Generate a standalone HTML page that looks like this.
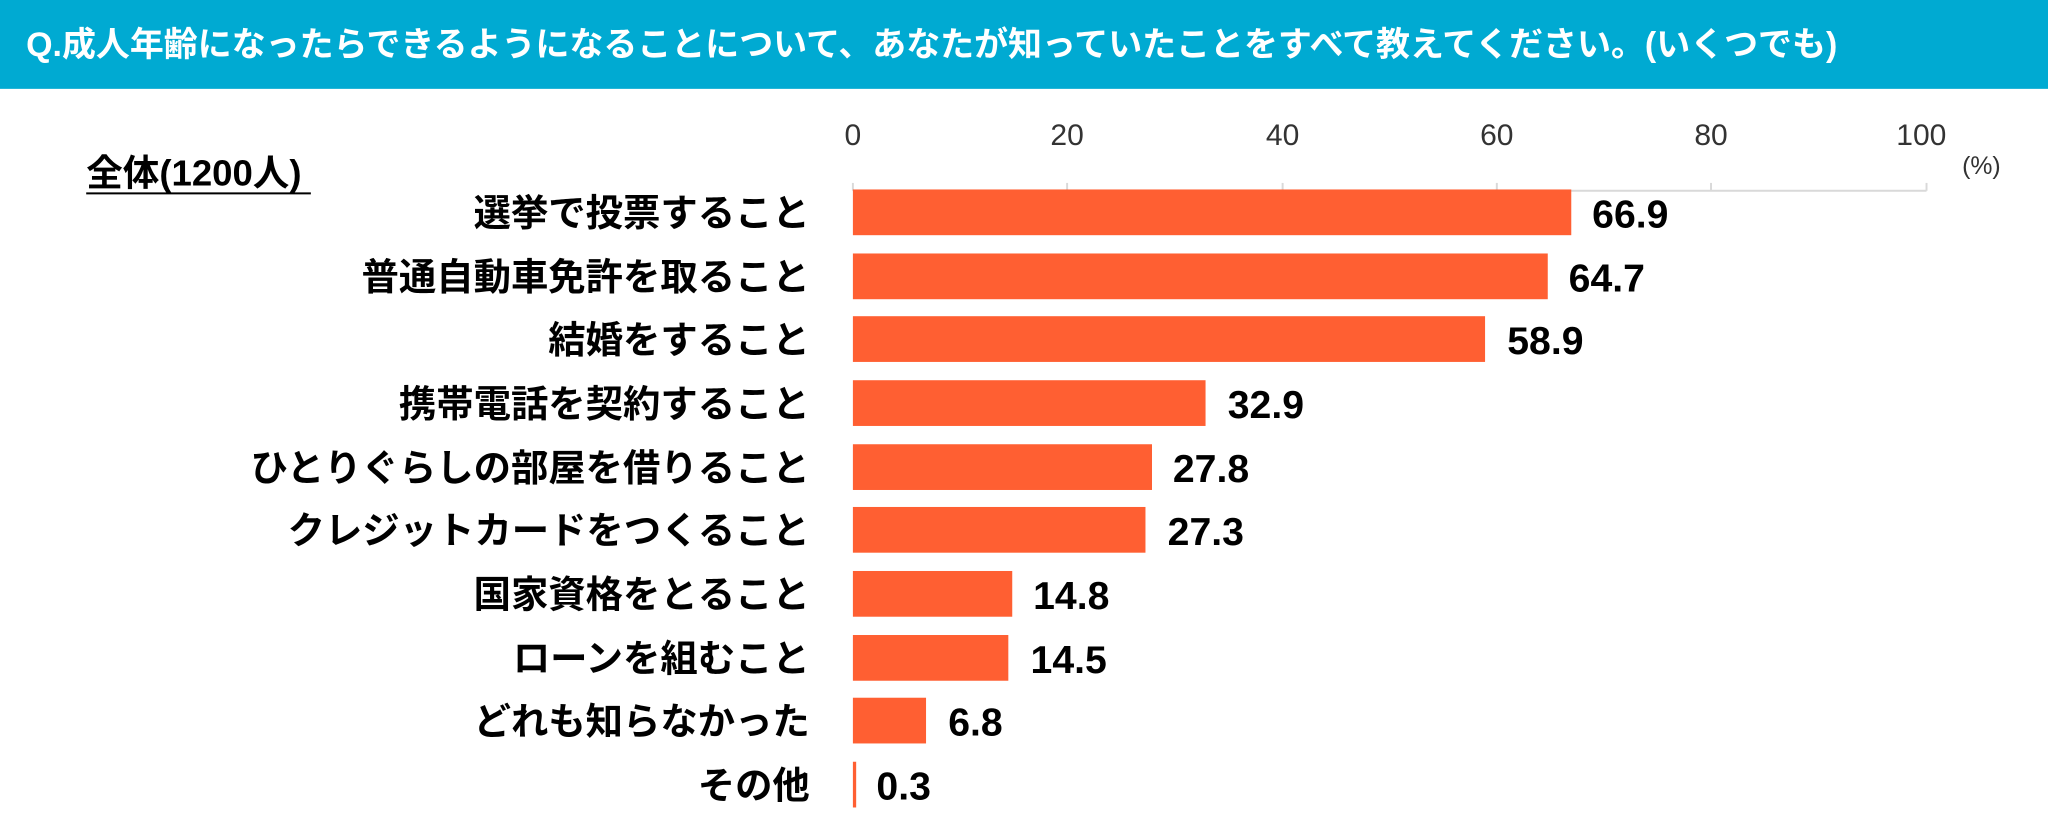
<!DOCTYPE html>
<html><head><meta charset="utf-8"><style>
html,body{margin:0;padding:0;background:#fff;}
svg{display:block;}
text{font-family:"Liberation Sans","Noto Sans CJK JP",sans-serif;}
</style></head><body>
<svg width="2048" height="831" viewBox="0 0 1568 636" preserveAspectRatio="none" xmlns="http://www.w3.org/2000/svg">
<rect x="0" y="0" width="1568" height="68" fill="#00AAD2"/>
<text x="20" y="43" font-size="26" font-weight="bold" fill="#fff">Q.成人年齢になったらできるようになることについて、あなたが知っていたことをすべて教えてください。(いくつでも)</text>
<g font-size="23" fill="#333" text-anchor="middle">
<text x="653" y="111">0</text><text x="817" y="111">20</text><text x="982" y="111">40</text><text x="1146" y="111">60</text><text x="1310" y="111">80</text><text x="1471" y="111">100</text>
</g>
<text x="1517" y="133" font-size="19" fill="#333" text-anchor="middle">(%)</text>
<text x="66" y="142" font-size="28" font-weight="bold" fill="#000">全体(1200人)</text>
<line x1="66" y1="148" x2="238" y2="148" stroke="#000" stroke-width="1.5"/>
<g stroke="#d9d9d9" stroke-width="1.5">
<line x1="653" y1="146" x2="1475" y2="146"/>
<line x1="653" y1="140" x2="653" y2="146"/><line x1="817" y1="140" x2="817" y2="146"/><line x1="982" y1="140" x2="982" y2="146"/><line x1="1146" y1="140" x2="1146" y2="146"/><line x1="1310" y1="140" x2="1310" y2="146"/><line x1="1475" y1="140" x2="1475" y2="146"/>
</g>
<g fill="#FF5F32">
<rect x="653" y="145" width="550" height="35"/>
<rect x="653" y="194" width="532" height="35"/>
<rect x="653" y="242" width="484" height="35"/>
<rect x="653" y="291" width="270" height="35"/>
<rect x="653" y="340" width="229" height="35"/>
<rect x="653" y="388" width="224" height="35"/>
<rect x="653" y="437" width="122" height="35"/>
<rect x="653" y="486" width="119" height="35"/>
<rect x="653" y="534" width="56" height="35"/>
<rect x="653" y="583" width="2.5" height="35"/>
</g>
<g font-size="28.6" font-weight="bold" fill="#000" text-anchor="end">
<text x="620" y="173">選挙で投票すること</text>
<text x="620" y="222">普通自動車免許を取ること</text>
<text x="620" y="270">結婚をすること</text>
<text x="620" y="319">携帯電話を契約すること</text>
<text x="620" y="368">ひとりぐらしの部屋を借りること</text>
<text x="620" y="416">クレジットカードをつくること</text>
<text x="620" y="465">国家資格をとること</text>
<text x="620" y="514">ローンを組むこと</text>
<text x="620" y="562">どれも知らなかった</text>
<text x="620" y="611">その他</text>
</g>
<g font-size="30" font-weight="bold" fill="#000">
<text x="1219" y="174">66.9</text>
<text x="1201" y="223">64.7</text>
<text x="1154" y="271">58.9</text>
<text x="940" y="320">32.9</text>
<text x="898" y="369">27.8</text>
<text x="894" y="417">27.3</text>
<text x="791" y="466">14.8</text>
<text x="789" y="515">14.5</text>
<text x="726" y="563">6.8</text>
<text x="671" y="612">0.3</text>
</g>
</svg>
</body></html>
